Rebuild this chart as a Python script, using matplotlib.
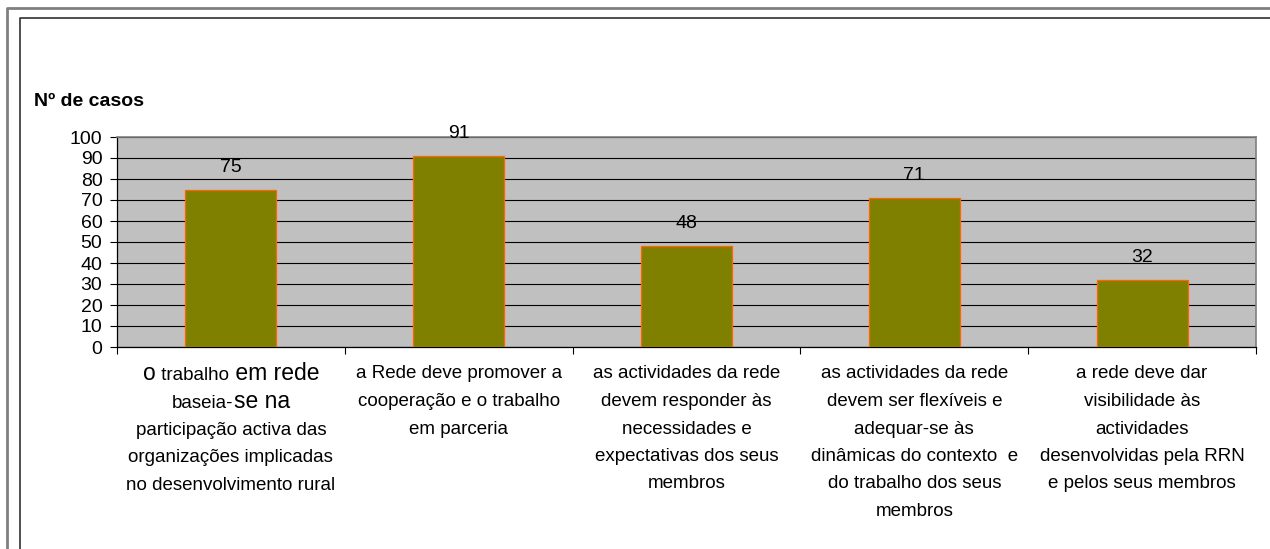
import matplotlib
matplotlib.use("Agg")
import matplotlib.pyplot as plt
import matplotlib.transforms as mtransforms
from matplotlib.lines import Line2D

plt.rcParams['font.family'] = ['Liberation Sans', 'DejaVu Sans']

# data
values = [75, 91, 48, 71, 32]
cat_lines = [
    None,  # first label drawn with mixed font sizes below
    ["a Rede deve promover a", "cooperação e o trabalho", "em parceria"],
    ["as actividades da rede", "devem responder às", "necessidades e",
     "expectativas dos seus", "membros"],
    ["as actividades da rede", "devem ser flexíveis e", "adequar-se às",
     "dinâmicas do contexto  e", "do trabalho dos seus", "membros"],
    ["a rede deve dar", "visibilidade às", "actividades",
     "desenvolvidas pela RRN", "e pelos seus membros"],
]
first_label = [
    [("o", 16.5), (" trabalho", 13.5), (" em rede", 16.5)],
    [("baseia-", 13.5), ("se na", 16.5)],
    [("participação activa das", 13.5)],
    [("organizações implicadas", 13.5)],
    [("no desenvolvimento rural", 13.5)],
]
ylabel = "Nº de casos"

W, H = 1270, 549
fig = plt.figure(figsize=(12.7, 5.49), dpi=100)
fig.patch.set_facecolor("white")

# double frame round the chart
fig.add_artist(Line2D([7/W, 7/W, 1], [0, 1-8/H, 1-8/H], color="#808080", lw=2))
fig.add_artist(Line2D([20/W, 20/W, 1], [0, 1-18/H, 1-18/H], color="#303030", lw=1.2))

ax = fig.add_axes([117/W, 1-347/H, (1256-117)/W, (347-137)/H])
ax.set_facecolor("#C0C0C0")

x = list(range(len(values)))
ax.bar(x, values, width=0.4, color="#808000", edgecolor="#FF6600", linewidth=0.9, zorder=3)

ax.set_xlim(-0.5, len(values) - 0.5)
ax.set_ylim(0, 100)
ax.set_yticks(range(0, 101, 10))
ax.yaxis.grid(True, color="black", linewidth=0.8, zorder=1)
ax.set_axisbelow(True)
ax.tick_params(axis="y", labelsize=14, length=5, width=0.8, pad=5.5)
ax.set_xticks([i - 0.5 for i in range(len(values) + 1)])
ax.set_xticklabels([])
ax.tick_params(axis="x", length=5, width=0.8)

for s in ["left", "bottom"]:
    ax.spines[s].set_color("black")
    ax.spines[s].set_linewidth(0.9)
for s in ["top", "right"]:
    ax.spines[s].set_color("#808080")
    ax.spines[s].set_linewidth(1.2)

for xi, v in zip(x, values):
    ax.annotate(str(v), (xi, v), xytext=(0, 16), textcoords="offset points",
                ha="center", va="center", fontsize=14)

fig.text(34/W, 1-102/H, ylabel, fontsize=14, fontweight="bold", va="center", ha="left")

# category labels under the axis
trans = mtransforms.blended_transform_factory(ax.transData, ax.transAxes)
first_dy = -27
step = 27.5
for i, lines in enumerate(cat_lines):
    if lines is None:
        continue
    for j, line in enumerate(lines):
        ax.annotate(line, (i, 0), xycoords=trans, xytext=(0, first_dy - step*j),
                    textcoords="offset pixels", ha="center", va="center",
                    fontsize=13.5, annotation_clip=False)

# first label, mixed font sizes as in the original
renderer = fig.canvas.get_renderer()
for j, segs in enumerate(first_label):
    texts = []
    widths = []
    for txt, size in segs:
        t = ax.annotate(txt, (0, 0), xycoords=trans, xytext=(0, first_dy - step*j),
                        textcoords="offset pixels", ha="left", va="baseline",
                        fontsize=size, annotation_clip=False)
        texts.append(t)
        widths.append(t.get_window_extent(renderer).width)
    total = sum(widths)
    left = -total / 2
    for t, w in zip(texts, widths):
        t.set_position((left, first_dy - step*j - 6))
        left += w

fig.savefig("out.png", dpi=100)
